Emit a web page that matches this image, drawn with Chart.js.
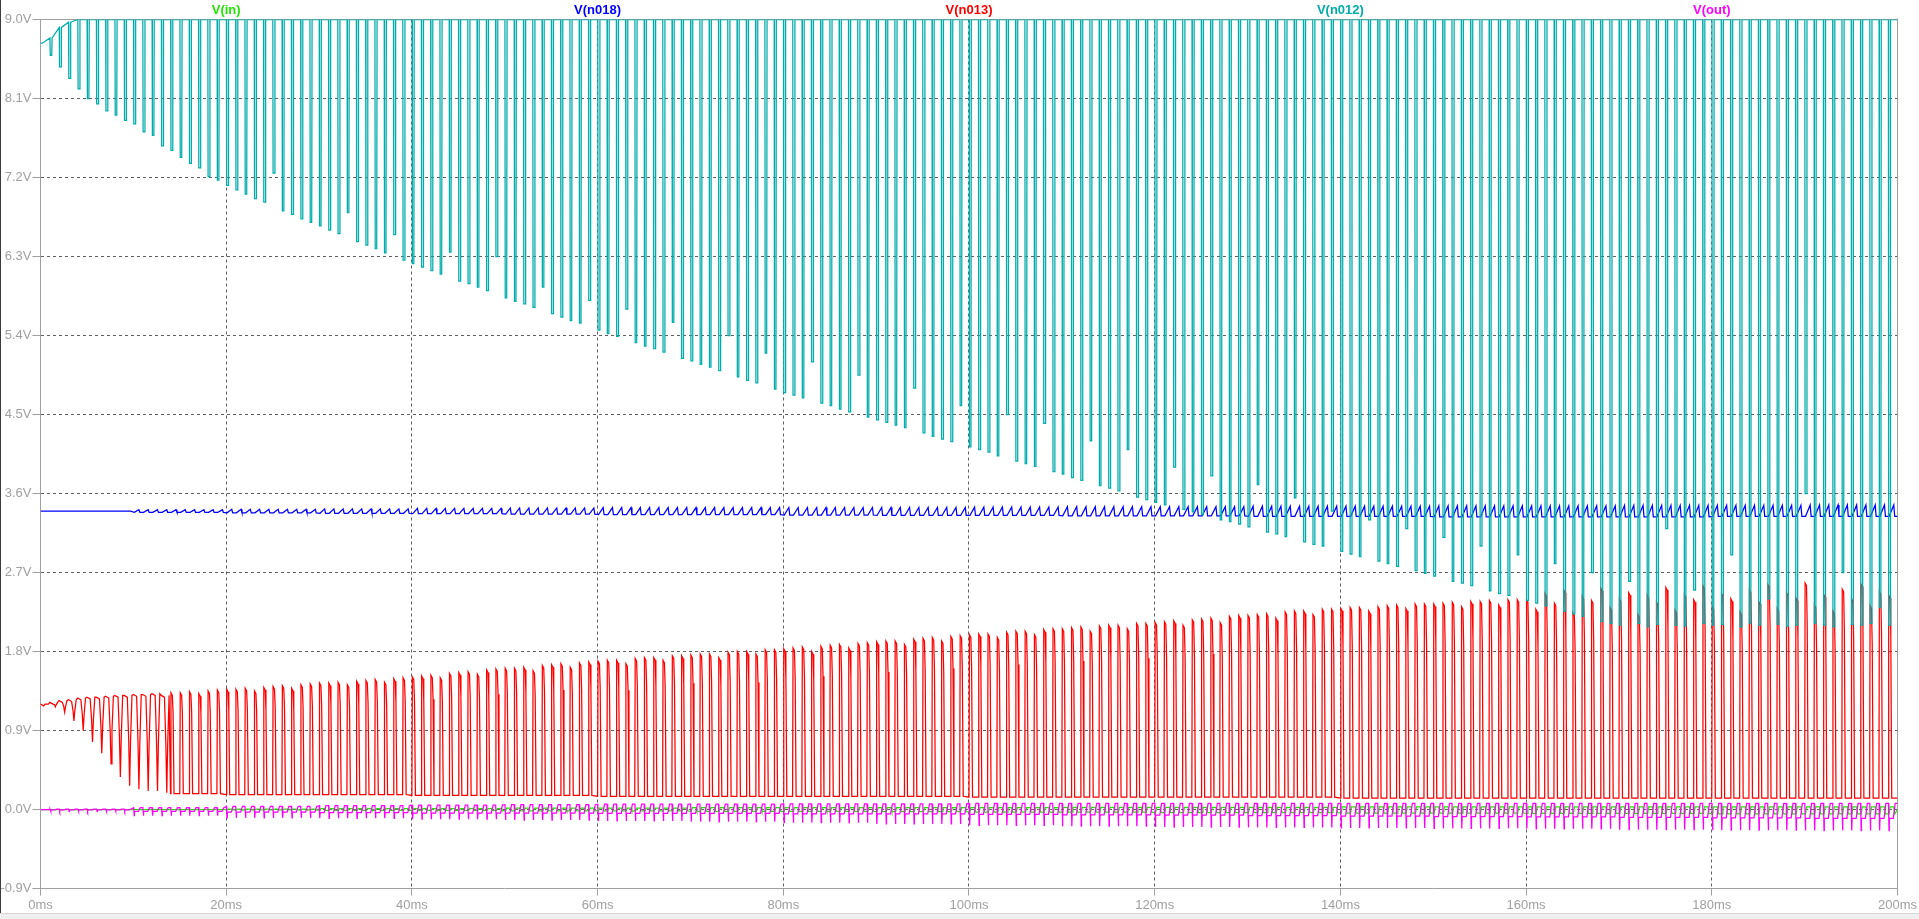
<!DOCTYPE html>
<html><head><meta charset="utf-8">
<script src="https://cdn.jsdelivr.net/npm/chart.js@4.4.1/dist/chart.umd.min.js"></script>
<style>html,body{margin:0;padding:0;background:#fff;overflow:hidden}#wrap{position:relative;width:1919px;height:919px}canvas{display:block}</style>
</head><body><div id="wrap"><canvas id="c" width="1919" height="919"></canvas></div>
<script>
// ---------------- data ----------------
const seriesNames = ['V(in)', 'V(n018)', 'V(n013)', 'V(n012)', 'V(out)'];
const seriesLabelMs = [20, 60, 100, 140, 180];       // where each trace name sits above the plot
const xTicks = [0, 20, 40, 60, 80, 100, 120, 140, 160, 180, 200];   // ms
const yTicks = [-0.9, 0.0, 0.9, 1.8, 2.7, 3.6, 4.5, 5.4, 6.3, 7.2, 8.1, 9.0]; // V

const cycleCount = 200;   // switching cycles visible (one per ms)
const periodMs = 1;

// V(n012): rail and per-cycle dip minimum
const n012Rail = 9.0;
const n012EarlyHigh = [8.73, 8.79, 8.91, 8.97];
const n012Low = [
8.73,8.59,8.46,8.33,8.21,8.10,8.04,7.96,7.91,7.85,
7.81,7.72,7.68,7.56,7.51,7.43,7.36,7.31,7.21,7.17,
7.11,7.06,7.01,6.96,6.92,7.25,6.82,6.78,6.73,6.69,
6.65,6.60,6.56,6.80,6.47,6.43,6.39,6.34,6.55,6.26,
6.22,6.18,6.14,6.10,6.35,6.02,5.99,5.95,5.91,6.30,
5.83,5.79,5.76,5.72,5.95,5.65,5.61,5.57,5.54,5.80,
5.46,5.42,5.39,5.70,5.32,5.28,5.25,5.21,5.55,5.14,
5.11,5.07,5.04,5.00,5.40,4.93,4.89,4.86,5.20,4.79,
4.75,4.72,4.69,5.10,4.63,4.60,4.56,4.53,4.95,4.47,
4.44,4.41,4.38,4.35,4.80,4.29,4.25,4.22,4.19,4.60,
4.13,4.10,4.07,4.03,4.50,3.97,3.94,3.91,4.40,3.85,
3.82,3.78,3.75,4.20,3.69,3.66,3.63,4.10,3.56,3.53,
3.50,3.47,3.90,3.42,3.39,3.36,3.80,3.30,3.28,3.25,
3.22,3.70,3.16,3.14,3.11,3.55,3.05,3.02,3.00,3.40,
2.94,2.91,2.88,3.30,2.83,2.80,2.77,3.20,2.72,2.69,
2.66,3.10,2.60,2.58,2.55,3.00,2.49,2.46,2.44,2.90,
2.38,2.35,2.32,2.80,2.26,2.23,2.20,2.70,2.14,2.12,
2.10,2.60,2.12,2.08,2.11,3.20,2.10,2.09,2.50,2.12,
2.10,2.11,2.90,2.08,2.12,2.10,2.40,2.11,2.09,2.10,
3.60,2.12,2.10,2.08,2.70,2.11,2.10,2.12,2.30,2.10
];

// V(n013): per-cycle pulse peak, early trough values, later floor (per 20 ms)
const n013High = [
1.20,1.22,1.24,1.25,1.27,1.28,1.28,1.29,1.30,1.30,
1.31,1.31,1.32,1.30,1.33,1.33,1.34,1.32,1.35,1.36,
1.37,1.37,1.38,1.35,1.39,1.40,1.41,1.38,1.42,1.43,
1.44,1.44,1.45,1.42,1.46,1.47,1.48,1.45,1.49,1.50,
1.51,1.52,1.53,1.50,1.55,1.56,1.57,1.54,1.59,1.60,
1.61,1.61,1.62,1.58,1.64,1.65,1.66,1.62,1.67,1.68,
1.69,1.70,1.70,1.66,1.72,1.73,1.73,1.70,1.75,1.75,
1.76,1.77,1.77,1.73,1.79,1.80,1.80,1.77,1.82,1.82,
1.83,1.84,1.85,1.80,1.86,1.87,1.88,1.84,1.89,1.90,
1.91,1.92,1.92,1.88,1.94,1.95,1.96,1.92,1.97,1.98,
1.99,2.00,2.00,1.96,2.02,2.03,2.03,1.99,2.05,2.06,
2.06,2.07,2.08,2.03,2.09,2.10,2.10,2.06,2.12,2.12,
2.13,2.14,2.15,2.10,2.16,2.17,2.18,2.13,2.20,2.21,
2.21,2.22,2.23,2.18,2.25,2.26,2.26,2.22,2.28,2.28,
2.29,2.30,2.30,2.26,2.31,2.32,2.33,2.29,2.34,2.34,
2.34,2.35,2.36,2.31,2.37,2.37,2.38,2.33,2.39,2.39,
2.39,2.28,2.46,2.35,2.50,2.24,2.43,2.38,2.52,2.30,
2.40,2.47,2.22,2.44,2.36,2.53,2.27,2.45,2.39,2.55,
2.31,2.46,2.40,2.25,2.50,2.37,2.56,2.29,2.47,2.41,
2.58,2.33,2.45,2.26,2.51,2.40,2.57,2.32,2.48,2.44
];
const n013EarlyLow = [1.20,1.17,1.11,1.01,0.90,0.77,0.64,0.52,0.37,0.27,0.23,0.21,0.21,0.19];
const n013Floor = [0.18,0.17,0.16,0.15,0.15,0.14,0.14,0.13,0.13,0.13];

// V(n018): flat start, then ripple limits per 10 ms
const n018Flat = 3.40;
const n018RippleStartCycle = 7;
const n018Hi = [3.40,3.415,3.42,3.425,3.43,3.435,3.44,3.44,3.44,3.44,3.445,3.45,3.45,3.455,3.455,3.46,3.46,3.465,3.465,3.47];
const n018Lo = [3.40,3.385,3.38,3.375,3.37,3.365,3.36,3.36,3.355,3.35,3.35,3.345,3.345,3.34,3.34,3.335,3.335,3.335,3.34,3.34];

// V(out): hump top, mid level, negative spike per 10 ms
const outTop = [0.005,0.02,0.035,0.045,0.05,0.055,0.06,0.06,0.065,0.065,0.07,0.07,0.07,0.07,0.07,0.07,0.07,0.07,0.07,0.07];
const outMid = [-0.005,-0.02,-0.03,-0.035,-0.04,-0.04,-0.045,-0.045,-0.05,-0.05,-0.055,-0.06,-0.065,-0.07,-0.075,-0.08,-0.085,-0.09,-0.095,-0.10];
const outSpike = [-0.02,-0.07,-0.095,-0.10,-0.11,-0.12,-0.13,-0.14,-0.15,-0.165,-0.18,-0.19,-0.20,-0.205,-0.21,-0.215,-0.22,-0.23,-0.235,-0.24];

// V(in): small ripple limits per 10 ms
const inHi = [0,0,0.005,0.01,0.01,0.015,0.015,0.02,0.02,0.02,0.02,0.025,0.025,0.025,0.03,0.03,0.03,0.03,0.03,0.03];
const inLo = [0,0,-0.005,-0.01,-0.01,-0.015,-0.015,-0.02,-0.02,-0.025,-0.03,-0.03,-0.035,-0.035,-0.04,-0.04,-0.045,-0.045,-0.05,-0.05];

const colors = {in:'#22e600', n018:'#0000ff', n013:'#ff0000', n012:'#00acac', out:'#ff00ff'};
const labelColors = [colors.in, colors.n018, colors.n013, colors.n012, colors.out];

// ---------------- build traces ----------------
const blk10 = k => Math.min(Math.floor(k / 10), 19);

function traceN012() {
  const p = [{x:0, y:n012EarlyHigh[0]}];
  for (let k = 0; k < cycleCount; k++) {
    const t = k * periodMs;
    const hi = k < n012EarlyHigh.length ? n012EarlyHigh[k] : n012Rail;
    const lo = n012Low[k];
    p.push({x:t+0.02, y:hi}, {x:t+0.05, y:lo}, {x:t+0.21, y:lo}, {x:t+0.25, y:hi});
  }
  p.push({x:200, y:n012Rail});
  return p;
}
function traceN013() {
  const p = [];
  for (let k = 0; k < cycleCount; k++) {
    const t = k * periodMs;
    const base = k < n013EarlyLow.length ? n013EarlyLow[k] : n013Floor[Math.floor(k / 20)];
    const hi = n013High[k];
    if (k < n013EarlyLow.length) {
      // early cycles: wide top, narrow rounded trough
      p.push({x:t, y:hi}, {x:t+0.35, y:hi-0.02}, {x:t+0.5, y:base+(hi-base)*0.5},
             {x:t+0.6, y:base}, {x:t+0.7, y:base+(hi-base)*0.5}, {x:t+0.85, y:hi});
    } else {
      p.push({x:t, y:base}, {x:t+0.05, y:hi}, {x:t+0.2, y:hi-0.03},
             {x:t+0.28, y:base+(hi-base)*0.8}, {x:t+0.38, y:base});
    }
  }
  p.push({x:200, y:n013Floor[9]});
  return p;
}
function traceN018() {
  const p = [{x:0, y:n018Flat}, {x:n018RippleStartCycle, y:n018Flat}];
  for (let k = n018RippleStartCycle; k < cycleCount; k++) {
    const t = k * periodMs, i = blk10(k);
    p.push({x:t+0.1, y:n018Lo[i]}, {x:t+0.6, y:n018Hi[i]}, {x:t+0.7, y:n018Lo[i]});
  }
  p.push({x:200, y:n018Lo[19]});
  return p;
}
function traceOut() {
  const p = [{x:0, y:0}, {x:1.0, y:0}];
  for (let k = 1; k < cycleCount; k++) {
    const t = k * periodMs, i = blk10(k);
    p.push({x:t+0.02, y:outTop[i]}, {x:t+0.06, y:outMid[i]}, {x:t+0.09, y:outSpike[i]},
           {x:t+0.12, y:outMid[i]}, {x:t+0.55, y:outMid[i]}, {x:t+0.75, y:outTop[i]});
  }
  p.push({x:200, y:outTop[19]});
  return p;
}
function traceIn() {
  const p = [{x:0, y:0}];
  for (let k = 0; k < cycleCount; k++) {
    const t = k * periodMs, i = blk10(k);
    p.push({x:t+0.1, y:inLo[i]}, {x:t+0.2, y:inHi[i]}, {x:t+0.6, y:inHi[i]}, {x:t+0.7, y:inLo[i]});
  }
  p.push({x:200, y:0});
  return p;
}

// ---------------- chart ----------------
const FONT = "'Liberation Sans', Arial, sans-serif";
const AXIS_GRAY = '#a0a0a0';
const GRID_GRAY = '#606060';

const framePlugin = {
  id: 'frame',
  beforeDatasetsDraw(chart) {
    const {ctx, chartArea: a} = chart;
    ctx.save();
    ctx.strokeStyle = AXIS_GRAY; ctx.lineWidth = 1;
    ctx.beginPath();
    ctx.moveTo(a.left, Math.round(a.top) - 0.5); ctx.lineTo(a.right + 0.5, Math.round(a.top) - 0.5);
    ctx.moveTo(Math.floor(a.right) + 0.5, a.top - 1); ctx.lineTo(Math.floor(a.right) + 0.5, a.bottom);
    ctx.stroke();
    ctx.restore();
  },
  afterDraw(chart) {
    const {ctx} = chart;
    const xs = chart.scales.x;
    ctx.save();
    ctx.font = 'bold 13px ' + FONT;
    ctx.textAlign = 'center';
    ctx.textBaseline = 'alphabetic';
    seriesNames.forEach((n, i) => {
      ctx.fillStyle = labelColors[i];
      ctx.fillText(n, xs.getPixelForValue(seriesLabelMs[i]), 13.5);
    });
    // window edges
    ctx.fillStyle = '#3c3c3c'; ctx.fillRect(0, 0, 1, 914);
    ctx.fillStyle = '#d6d6d6'; ctx.fillRect(0, 913, 1919, 1);
    ctx.fillStyle = '#f0f0f0'; ctx.fillRect(1, 914, 1918, 5);
    ctx.restore();
  }
};

const edgeTransparent = (ctx, n) => (ctx.index === 0 || ctx.index === n - 1) ? 'rgba(0,0,0,0)' : GRID_GRAY;

new Chart(document.getElementById('c'), {
  type: 'line',
  data: {
    datasets: [
      {label: seriesNames[4], data: traceOut(),  borderColor: colors.out,  order: 0},
      {label: seriesNames[3], data: traceN012(), borderColor: colors.n012, order: 1},
      {label: seriesNames[2], data: traceN013(), borderColor: colors.n013, order: 2},
      {label: seriesNames[1], data: traceN018(), borderColor: colors.n018, order: 3},
      {label: seriesNames[0], data: traceIn(),   borderColor: colors.in,   order: 4}
    ]
  },
  options: {
    responsive: false,
    animation: false,
    parsing: false,
    normalized: true,
    events: [],
    elements: {point: {radius: 0}, line: {tension: 0, borderWidth: 1.25, fill: false}},
    layout: {padding: {top: 19.5, right: 21.5, left: 0, bottom: 0}},
    plugins: {legend: {display: false}, tooltip: {enabled: false}},
    scales: {
      x: {
        type: 'linear', min: 0, max: 200,
        afterBuildTicks: s => { s.ticks = xTicks.map(v => ({value: v})); },
        afterFit: s => { s.height = 30.5; },
        ticks: {callback: v => v + 'ms', color: AXIS_GRAY, font: {family: FONT, size: 13}, padding: 2, maxRotation: 0, autoSkip: false},
        grid: {color: c => edgeTransparent(c, xTicks.length), tickColor: AXIS_GRAY, tickLength: 7, lineWidth: 1, borderDash: [3, 3]},
        border: {color: AXIS_GRAY, width: 1, dash: [3, 3]}
      },
      y: {
        type: 'linear', min: -0.9, max: 9.0,
        afterBuildTicks: s => { s.ticks = yTicks.map(v => ({value: v})); },
        afterFit: s => { s.width = 40.5; },
        ticks: {callback: v => Number(v).toFixed(1) + 'V', color: AXIS_GRAY, font: {family: FONT, size: 13}, padding: 1, autoSkip: false},
        grid: {color: c => edgeTransparent(c, yTicks.length), tickColor: AXIS_GRAY, tickLength: 8, lineWidth: 1, borderDash: [3, 3]},
        border: {color: AXIS_GRAY, width: 1, dash: [3, 3]}
      }
    }
  },
  plugins: [framePlugin]
});
</script></body></html>
